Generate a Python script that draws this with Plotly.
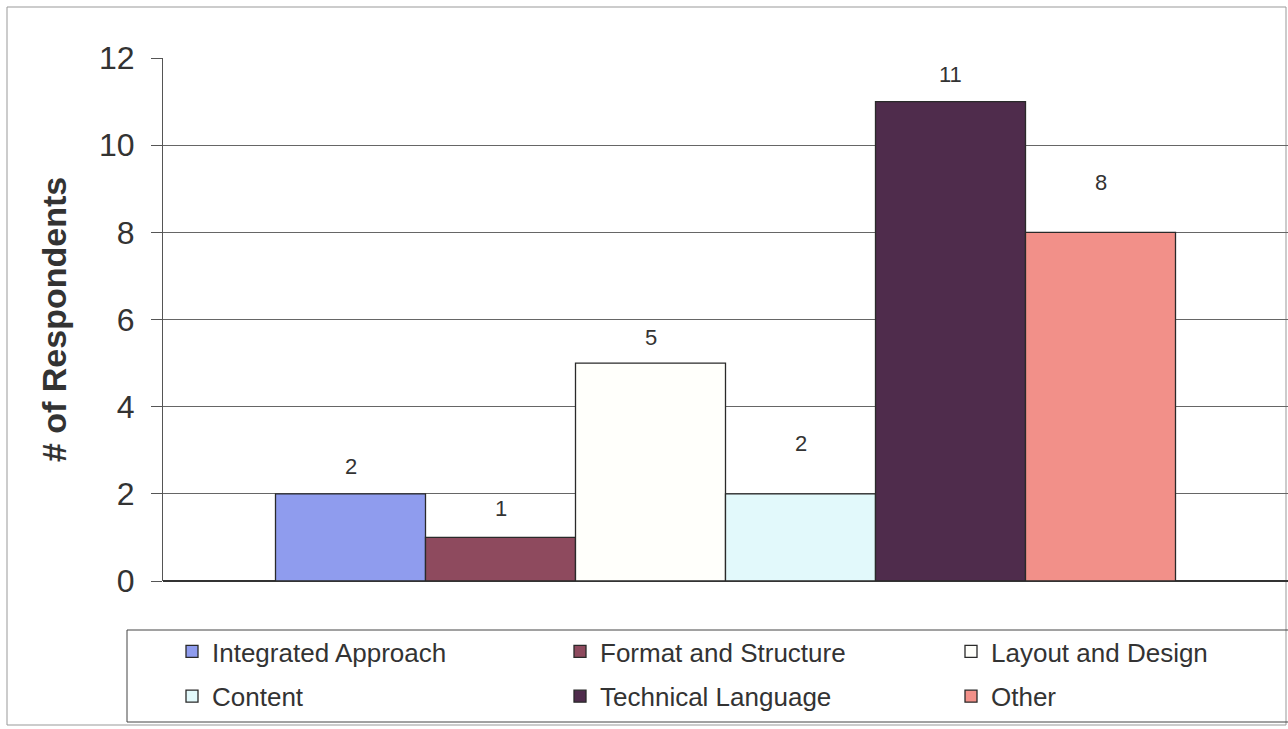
import plotly.graph_objects as go

categories = ["Responses"]
series_names = ["Integrated Approach", "Format and Structure", "Layout and Design",
                "Content", "Technical Language", "Other"]
series_values = [2, 1, 5, 2, 11, 8]
series_colors = ["#8f9cee", "#8e4a5e", "#fffffb", "#e2f9fb", "#4f2c4c", "#f29089"]
label_shift = [27, 29, 26, 50, 27, 50]   # pixel gap of value labels above bars (style)
legend_cols = ["legend", "legend2", "legend3", "legend", "legend2", "legend3"]
y_ticks = [0, 2, 4, 6, 8, 10, 12]

W, H = 1288, 729
L, R, T, B = 163, 0, 58, 148
pw, ph = W - L - R, H - T - B
FONT = "Liberation Sans, Arial, sans-serif"


def px(x):
    return (x - L) / pw


def py(y):
    return (H - B - y) / ph


n = len(series_names)
group_w = 0.8
fig = go.Figure()
for i, (name, val, col, lg) in enumerate(zip(series_names, series_values, series_colors, legend_cols)):
    fig.add_trace(go.Bar(
        x=categories, y=[val], name=name, legend=lg, legendgroup=name,
        marker=dict(color=col, line=dict(color="#2a2a2a", width=1.3)),
    ))
    fig.add_annotation(
        x=-group_w / 2 + (i + 0.5) * group_w / n, y=val, xref="x", yref="y",
        text=str(val), showarrow=False, yanchor="middle", yshift=label_shift[i],
        font=dict(family=FONT, size=22, color="#333333"),
    )

legend_common = dict(
    orientation="v", xanchor="left", yanchor="middle",
    borderwidth=0, bgcolor="rgba(0,0,0,0)",
    font=dict(family=FONT, size=26, color="#333333"),
    traceorder="grouped", tracegroupgap=8,
)
col_x = [172, 560, 951]

fig.update_layout(
    width=W, height=H,
    margin=dict(l=L, r=R, t=T, b=B, autoexpand=False),
    paper_bgcolor="white", plot_bgcolor="white",
    barmode="group", bargap=0.2, bargroupgap=0,
    font=dict(family=FONT, color="#333333"),
    showlegend=True,
    legend=dict(x=px(col_x[0]), y=py(674), **legend_common),
    legend2=dict(x=px(col_x[1]), y=py(674), **legend_common),
    legend3=dict(x=px(col_x[2]), y=py(674), **legend_common),
    xaxis=dict(showticklabels=False, showgrid=False, zeroline=False,
               showline=False, range=[-0.5, 0.5]),
    yaxis=dict(range=[0, 12], tickvals=y_ticks, ticks="outside", ticklen=11,
               tickcolor="#555555", showline=True, linecolor="#555555",
               gridcolor="#666666", gridwidth=1, zeroline=True,
               zerolinecolor="#333333", zerolinewidth=1.5,
               ticklabelstandoff=10,
               tickfont=dict(family=FONT, size=32, color="#333333"),
               title=dict(text="<b># of Respondents</b>",
                          font=dict(family=FONT, size=34, color="#333333"), standoff=22)),
)

# outer chart border
fig.add_shape(type="rect", xref="paper", yref="paper",
              x0=px(7), x1=px(1286), y0=py(725), y1=py(7),
              line=dict(color="#999999", width=1), layer="below")
# legend box
fig.add_shape(type="rect", xref="paper", yref="paper",
              x0=px(127), x1=px(1300), y0=py(722), y1=py(630),
              line=dict(color="#444444", width=1), fillcolor="rgba(0,0,0,0)", layer="below")

fig.write_html("out.html")
